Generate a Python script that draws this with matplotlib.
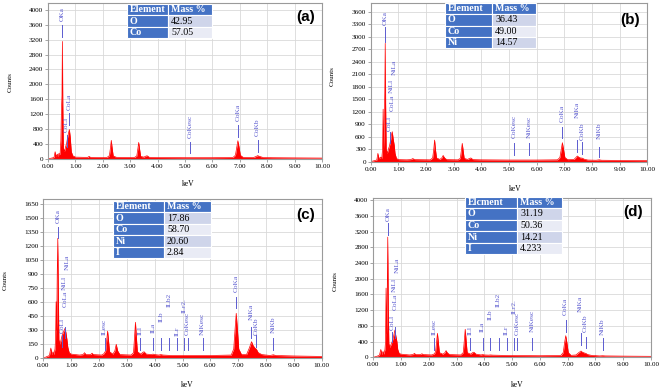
import matplotlib
matplotlib.use("Agg")
import matplotlib.pyplot as plt
from matplotlib.patches import Rectangle

# ---------------- data ----------------
E_a = [0.00,0.10,0.22,0.26,0.30,0.34,0.37,0.40,0.44,0.47,0.49,0.51,0.525,0.54,0.56,0.60,0.64,0.68,0.72,0.75,0.78,0.81,0.85,0.90,1.00,1.30,1.45,1.50,1.55,1.80,2.15,2.24,2.28,2.31,2.34,2.38,2.50,3.15,3.24,3.28,3.31,3.34,3.38,3.50,3.58,3.62,3.70,4.00,5.00,6.00,6.75,6.84,6.89,6.93,6.97,7.02,7.12,7.50,7.60,7.65,7.72,7.85,8.20,9.00,10.00]
C_a = [0,20,40,195,60,130,60,150,120,500,1300,1700,3150,1500,300,200,320,420,600,700,790,600,200,90,50,45,45,70,45,40,40,90,300,500,300,80,45,40,80,280,445,280,70,50,80,85,45,40,35,35,40,100,320,490,330,100,45,40,70,90,70,40,35,30,25]

E_b = [0.00,0.10,0.22,0.26,0.30,0.36,0.40,0.43,0.45,0.47,0.49,0.51,0.525,0.54,0.56,0.60,0.64,0.68,0.72,0.75,0.78,0.81,0.85,0.88,0.93,1.00,1.30,1.45,1.52,1.60,2.15,2.24,2.28,2.31,2.34,2.38,2.50,2.57,2.62,2.67,2.75,3.15,3.24,3.28,3.31,3.34,3.38,3.50,3.58,3.62,3.70,4.00,5.00,6.00,6.75,6.84,6.89,6.93,6.97,7.02,7.12,7.35,7.42,7.47,7.52,7.58,7.65,7.72,7.85,8.15,8.26,8.35,9.00,10.00]
C_b = [0,20,40,200,70,110,80,300,1260,300,900,1700,2840,1400,300,200,300,380,520,650,720,560,400,200,80,50,45,50,75,50,45,90,300,520,300,90,55,90,150,90,50,45,80,280,440,280,80,55,80,90,50,45,40,40,45,100,300,456,300,100,50,55,100,137,110,90,85,60,40,35,45,35,30,25]

E_c = [0.00,0.10,0.22,0.27,0.31,0.35,0.38,0.42,0.44,0.46,0.48,0.50,0.52,0.54,0.56,0.60,0.64,0.68,0.72,0.75,0.78,0.81,0.85,0.88,0.93,1.00,1.30,1.43,1.48,1.53,1.70,1.75,1.80,2.10,2.18,2.24,2.28,2.31,2.34,2.38,2.50,2.57,2.62,2.67,2.75,3.15,3.24,3.28,3.31,3.34,3.38,3.50,3.58,3.62,3.70,3.88,3.94,4.00,4.15,4.22,4.30,4.60,5.00,6.00,6.75,6.84,6.89,6.93,6.97,7.02,7.12,7.30,7.40,7.48,7.53,7.60,7.65,7.72,7.85,8.15,8.26,8.35,9.00,10.00]
C_c = [0,15,30,110,40,70,40,100,200,606,300,900,1285,700,200,150,200,250,280,300,321,280,200,120,60,45,35,40,60,40,40,55,40,35,50,80,200,292,200,70,45,80,150,80,40,35,60,240,386,240,70,45,65,70,45,40,45,40,35,40,35,30,30,30,35,100,320,482,320,100,40,40,110,178,140,110,100,60,40,30,38,30,25,20]

E_d = [0.00,0.10,0.22,0.27,0.31,0.35,0.38,0.42,0.44,0.46,0.48,0.50,0.52,0.54,0.56,0.60,0.64,0.68,0.72,0.75,0.78,0.81,0.85,0.88,0.93,1.00,1.30,1.43,1.48,1.53,1.70,1.75,1.80,2.10,2.18,2.24,2.28,2.31,2.34,2.38,2.50,2.57,2.62,2.67,2.75,3.15,3.24,3.28,3.31,3.34,3.38,3.50,3.58,3.62,3.70,3.88,3.94,4.00,4.15,4.22,4.30,4.60,5.00,6.00,6.75,6.84,6.89,6.93,6.97,7.02,7.12,7.30,7.40,7.48,7.53,7.60,7.65,7.72,7.85,8.15,8.26,8.35,9.00,10.00]
C_d = [0,20,50,200,70,150,80,200,400,1760,600,1500,3058,1200,350,250,330,400,500,600,695,550,400,200,100,80,60,70,100,70,70,90,70,60,80,130,400,610,400,120,80,110,170,110,70,60,120,450,713,450,120,80,120,130,80,60,70,60,55,60,55,50,45,40,45,120,380,550,380,120,50,60,120,160,130,110,100,70,50,35,40,35,30,25]

# element line markers: name, energy (keV)
mk_a_names = ["OKa", "CoLl", "CoLa", "CoKesc", "CoKa", "CoKb"]
mk_a_e     = [0.525, 0.68, 0.78, 5.18, 6.93, 7.65]
mk_b_names = ["OKa", "CoLl", "CoLa", "NiLl", "NiLa", "CoKesc", "NiKesc", "CoKa", "NiKa", "CoKb", "NiKb"]
mk_b_e     = [0.525, 0.68, 0.78, 0.74, 0.85, 5.18, 5.72, 6.93, 7.47, 7.65, 8.26]
mk_c_names = ["OKa", "CoLl", "CoLa", "NiLl", "NiLa", "ILesc", "ILl", "ILa", "ILb", "ILb2", "ILr", "ILr2.", "CoKesc", "NiKesc", "CoKa", "NiKa", "CoKb", "NiKb"]
mk_c_e     = [0.525, 0.68, 0.78, 0.74, 0.85, 2.20, 3.48, 3.94, 4.22, 4.51, 4.80, 5.07, 5.18, 5.72, 6.93, 7.47, 7.65, 8.26]
mk_d_names = ["OKa", "CoLl", "CoLa", "NiLl", "NiLa", "ILesc", "ILl", "ILa", "ILb", "ILb2", "ILr", "ILr2.", "CoKesc", "NiKesc", "CoKa", "NiKa", "CoKb", "NiKb"]
mk_d_e     = [0.525, 0.68, 0.78, 0.74, 0.85, 2.20, 3.48, 3.94, 4.22, 4.51, 4.80, 5.07, 5.18, 5.72, 6.93, 7.47, 7.65, 8.26]

# tables
tab_a_el = ["O", "Co"];             tab_a_val = ["42.95", "57.05"]
tab_b_el = ["O", "Co", "Ni"];       tab_b_val = ["36.43", "49.00", "14.57"]
tab_c_el = ["O", "Co", "Ni", "I"];  tab_c_val = ["17.86", "58.70", "20.60", "2.84"]
tab_d_el = ["O", "Co", "Ni", "I"];  tab_d_val = ["31.19", "50.36", "14.21", "4.233"]
tab_d_header = "Elcment"

yticks_a = list(range(0, 4001, 400))
yticks_b = list(range(0, 3601, 300))
yticks_c = list(range(0, 1651, 150))
yticks_d = list(range(0, 4001, 400))
xticks = list(range(0, 11))

# ---------------- layout (pixels) ----------------
W, H = 661, 390
# marker vertical layout: (line bottom, line top, text bottom) in counts
lay_a = [(3270, 3580, 3700), (330, 640, 730), (910, 1220, 1310), (150, 460, 550), (600, 910, 1020), (200, 510, 610)]
lay_b = [(2880, 3240, 3280), (440, 720, 740), (None, None, 1220), (None, None, 1640), (None, None, 2080),
         (160, 440, 560), (160, 440, 560), (560, 840, 960), (240, 520, 1060), (185, 480, 520), (120, 360, 537)]
lay_c = [(1285, 1409, 1446), (124, 250, 268), (214, 338, 553), (None, None, 731), (None, None, 946),
         (89, 214, 250), (89, 214, 250), (89, 214, 275), (89, 214, 390), (89, 214, 555), (89, 214, 235),
         (89, 214, 490), (89, 214, 250), (89, 214, 250), (535, 660, 713), (214, 338, 410), (124, 250, 252), (89, 214, 268)]
lay_d = [(3116, 3414, 3455), (397, 652, 696), (484, 780, 1205), (None, None, 1672), (None, None, 2140),
         (186, 484, 568), (186, 484, 568), (186, 484, 652), (186, 484, 950), (186, 484, 1289), (186, 484, 568),
         (186, 484, 1110), (186, 484, 568), (186, 484, 652), (652, 950, 1078), (313, 611, 1162), (229, 525, 652), (186, 484, 568)]

panels = [
    dict(E=E_a, C=C_a, names=mk_a_names, me=mk_a_e, lay=lay_a, yt=yticks_a, ymax=4180,
         box=(48, 3, 322, 159), tab=(tab_a_el, tab_a_val, "Element"), tbox=(127, 4.3, 168, 212, 37.7),
         label="(a)", lpos=(306, 17), counts=(10, 82), kev=(188, 184)),
    dict(E=E_b, C=C_b, names=mk_b_names, me=mk_b_e, lay=lay_b, yt=yticks_b, ymax=3800,
         box=(370.7, 3.3, 647.3, 161.7), tab=(tab_b_el, tab_b_val, "Element"), tbox=(445, 2.7, 492.3, 536, 48.3),
         label="(b)", lpos=(630, 20), counts=(332, 76), kev=(515, 189)),
    dict(E=E_c, C=C_c, names=mk_c_names, me=mk_c_e, lay=lay_c, yt=yticks_c, ymax=1707,
         box=(43.3, 199, 321.7, 358.3), tab=(tab_c_el, tab_c_val, "Element"), tbox=(112.7, 201, 164, 210.7, 258.3),
         label="(c)", lpos=(306, 215), counts=(5, 280), kev=(187, 385)),
    dict(E=E_d, C=C_d, names=mk_d_names, me=mk_d_e, lay=lay_d, yt=yticks_d, ymax=4060,
         box=(373.3, 197.7, 651, 357.3), tab=(tab_d_el, tab_d_val, tab_d_header), tbox=(465, 196.7, 517.3, 562.3, 254.3),
         label="(d)", lpos=(633, 212), counts=(335, 281), kev=(517, 385)),
]

SERIF = ["Liberation Serif", "DejaVu Serif"]
MK_COLOR = "#5b5bd0"
BLUE = "#4472C4"
VAL_COLORS = ["#cfd5ea", "#e9ebf5"]

fig = plt.figure(figsize=(W / 100, H / 100), dpi=100)
fig.patch.set_facecolor("white")

def fx(x):
    return x / W

def fy(y):
    return 1 - y / H

for p in panels:
    x0, y0, x1, y1 = p["box"]
    ax = fig.add_axes([fx(x0), fy(y1), (x1 - x0) / W, (y1 - y0) / H])
    ax.fill_between(p["E"], 0, p["C"], color="#ff0000", lw=0)
    ax.plot(p["E"], p["C"], color="#ff0000", lw=0.5)
    ax.set_xlim(0, 10)
    ax.set_ylim(0, p["ymax"])
    ax.set_xticks(xticks)
    ax.set_xticklabels([f"{v:.2f}" for v in xticks], fontfamily=SERIF, fontsize=5.2)
    ax.set_yticks(p["yt"])
    ax.set_yticklabels([str(v) for v in p["yt"]], fontfamily=SERIF, fontsize=5.2)
    ax.tick_params(length=2, width=0.5, color="#808080", pad=1.5)
    ax.grid(True, color="#d9d9d9", lw=0.6)
    ax.set_axisbelow(True)
    for s in ax.spines.values():
        s.set_color("#9a9a9a")
        s.set_linewidth(0.8)
    # markers
    for name, e, (lb, lt, tb) in zip(p["names"], p["me"], p["lay"]):
        if lb is not None:
            ax.plot([e, e], [lb, lt], color=MK_COLOR, lw=0.7)
        ax.text(e, tb, name, rotation=90, ha="center", va="bottom", color=MK_COLOR,
                fontsize=5.3, fontfamily=SERIF)
    # table
    els, vals, head = p["tab"]
    tx0, ty0, tsplit, tx1, ty1 = p["tbox"]
    nrows = len(els) + 1
    rh = (ty1 - ty0) / nrows
    for r in range(nrows):
        top = ty0 + r * rh
        if r == 0:
            cells = [(tx0, tsplit, BLUE, head, "white", "bold"), (tsplit, tx1, BLUE, "Mass %", "white", "bold")]
        else:
            cells = [(tx0, tsplit, BLUE, els[r - 1], "white", "bold"),
                     (tsplit, tx1, VAL_COLORS[(r - 1) % 2], vals[r - 1], "black", "normal")]
        for (cx0, cx1, col, txt, tc, fw) in cells:
            fig.patches.append(Rectangle((fx(cx0), fy(top + rh)), (cx1 - cx0) / W, rh / H,
                                         transform=fig.transFigure, facecolor=col,
                                         edgecolor="white", lw=0.8))
            fig.text(fx(cx0 + 3), fy(top + rh / 2), txt, ha="left", va="center", color=tc,
                     fontsize=7.2, fontweight=fw, fontfamily=SERIF)
    fig.text(fx(p["lpos"][0]), fy(p["lpos"][1]), p["label"], ha="center", va="center",
             fontsize=11, fontweight="bold", fontfamily=["Liberation Sans", "DejaVu Sans"])
    fig.text(fx(p["counts"][0]), fy(p["counts"][1]), "Counts", rotation=90, ha="center", va="center",
             fontsize=5, fontfamily=SERIF)
    fig.text(fx(p["kev"][0]), fy(p["kev"][1]), "keV", ha="center", va="center",
             fontsize=5.5, fontfamily=SERIF)

fig.savefig("out.png", dpi=100)
